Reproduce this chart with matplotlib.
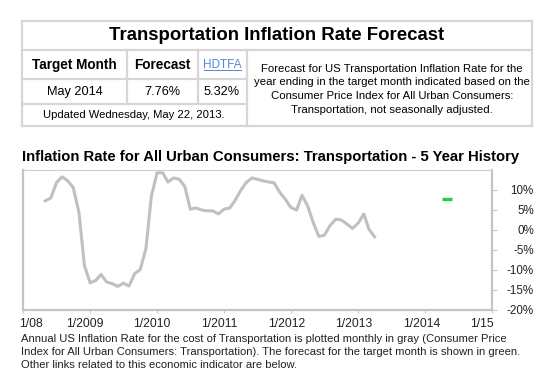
import matplotlib
matplotlib.use("Agg")
import matplotlib.pyplot as plt
import matplotlib.transforms as mtransforms
from matplotlib.lines import Line2D
import pandas as pd
import datetime as dt

plt.rcParams['font.family'] = ['Liberation Sans', 'DejaVu Sans']

# ---------------- data ----------------
start_month = "2008-05-01"
inflation = [7.3, 8.0, 11.8, 13.3, 12.3, 10.6, 4.4, -8.9, -13.2, -12.6,
             -11.1, -13.0, -13.4, -14.1, -13.3, -14.0, -10.9, -9.9, -4.7, 8.5,
             14.3, 14.3, 12.0, 13.0, 12.7, 10.9, 5.2, 5.5, 5.0, 4.8,
             4.8, 4.0, 5.2, 5.5, 7.3, 9.8, 11.8, 13.0, 12.7, 12.3,
             12.0, 11.8, 9.4, 7.7, 5.6, 5.0, 8.7, 6.0, 1.9, -1.6,
             -1.3, 1.1, 2.7, 2.5, 1.5, 0.4, 1.7, 4.0, 0.2, -1.7]
forecast_month = "2014-05-01"
forecast_value = 7.76
hdtfa_value = 5.32
x_tick_years = [2008, 2009, 2010, 2011, 2012, 2013, 2014, 2015]
x_tick_labels = ["1/08", "1/2009", "1/2010", "1/2011", "1/2012", "1/2013", "1/2014", "1/15"]
y_ticks = [10, 5, 0, -5, -10, -15, -20]
y_tick_labels = ["10%", "5%", "0%", "-5%", "-10%", "-15%", "-20%"]

W, H = 553, 382
fig = plt.figure(figsize=(W / 100, H / 100), dpi=100)
fig.patch.set_facecolor("white")


def fx(x):
    return x / W


def fy(y):
    return 1 - y / H


# ---------------- table ----------------
border = "#d6d6d6"
blw = 1.6
L, R, T, B = 22, 532, 21, 126
rows = [49.5, 78.5, 104.3]
c1, c2, c3 = 127.3, 197.5, 246.5


def hline(x0, x1, y):
    fig.add_artist(Line2D([fx(x0), fx(x1)], [fy(y), fy(y)], color=border, lw=blw))


def vline(x, y0, y1):
    fig.add_artist(Line2D([fx(x), fx(x)], [fy(y0), fy(y1)], color=border, lw=blw))


hline(L, R, T)
hline(L, R, B)
vline(L, T, B)
vline(R, T, B)
hline(L, R, rows[0])
hline(L, c3, rows[1])
hline(L, c3, rows[2])
vline(c1, rows[0], rows[2])
vline(c2, rows[0], rows[2])
vline(c3, rows[0], B)

fig.text(fx((L + R) / 2), fy(35), "Transportation Inflation Rate Forecast",
         ha="center", va="center", fontsize=13.4, fontweight="bold", color="black")
fig.text(fx((L + c1) / 2), fy(64.8), "Target Month", ha="center", va="center",
         fontsize=9.8, fontweight="bold")
fig.text(fx((c1 + c2) / 2), fy(64.8), "Forecast", ha="center", va="center",
         fontsize=9.8, fontweight="bold")
fig.text(fx((c2 + c3) / 2), fy(65.3), "HDTFA", ha="center", va="center",
         fontsize=8.5, color="#5585d5")
fig.add_artist(Line2D([fx(204), fx(241)], [fy(69.8), fy(69.8)], color="#5585d5", lw=0.7))
fig.text(fx((L + c1) / 2), fy(92.2), "May 2014", ha="center", va="center", fontsize=9.2)
fig.text(fx((c1 + c2) / 2), fy(92.2), f"{forecast_value:.2f}%", ha="center", va="center", fontsize=9.2)
fig.text(fx((c2 + c3) / 2), fy(92.2), f"{hdtfa_value:.2f}%", ha="center", va="center", fontsize=9.2)
fig.text(fx((L + c3) / 2), fy(115.5), "Updated Wednesday, May 22, 2013.", ha="center",
         va="center", fontsize=8.1)
desc = ["Forecast for US Transportation Inflation Rate for the",
        "year ending in the target month indicated based on the",
        "Consumer Price Index for All Urban Consumers:",
        "Transportation, not seasonally adjusted."]
for i, line in enumerate(desc):
    fig.text(fx((c3 + R) / 2 + 3), fy(68.5 + i * 13.8), line, ha="center", va="center",
             fontsize=8.2)

# ---------------- chart ----------------
fig.text(fx(22), fy(156.7), "Inflation Rate for All Urban Consumers: Transportation - 5 Year History",
         ha="left", va="center", fontsize=10.75, fontweight="bold")

ax_l, ax_r, ax_t, ax_b = 23, 492, 170, 310
ax = fig.add_axes([fx(ax_l), fy(ax_b), (ax_r - ax_l) / W, (ax_b - ax_t) / H])

dates = pd.date_range(start_month, periods=len(inflation), freq="MS")
ax.plot(dates, inflation, color="#c0c0c0", lw=2.2, solid_joinstyle="round")
ax.plot([pd.Timestamp(forecast_month)], [forecast_value], marker="_", ms=6.5, mew=2.4,
        color="#22d040", linestyle="none")

ax.set_xlim(dt.datetime(x_tick_years[0], 1, 1), dt.datetime(x_tick_years[-1], 1, 1))
ax.set_ylim(-20, 15)
ax.set_xticks([dt.datetime(y, 1, 1) for y in x_tick_years])
ax.set_xticklabels(x_tick_labels)
ax.set_yticks(y_ticks)
ax.set_yticklabels(y_tick_labels)
ax.yaxis.tick_right()
ax.tick_params(axis="y", direction="out", length=3.6, width=0.8, color="#c8c8c8",
               pad=26.5, labelsize=8.4, labelcolor="#222222")
for lab in ax.get_yticklabels():
    lab.set_ha("right")
ax.tick_params(axis="x", direction="out", length=2, width=0.8, color="#c8c8c8",
               pad=3.5, labelsize=8.7, labelcolor="#222222")
label_shifts_px = [8, -5.5, -5, -5, -4, -4.5, -3, -10]
for lab, sh in zip(ax.get_xticklabels(), label_shifts_px):
    off = mtransforms.ScaledTranslation(sh / 100, 0, fig.dpi_scale_trans)
    lab.set_transform(lab.get_transform() + off)

for side in ["left", "bottom", "right"]:
    ax.spines[side].set_color("#c4c4c4")
    ax.spines[side].set_linewidth(1.6)
ax.spines["top"].set_color("#d0d0d0")
ax.spines["top"].set_linewidth(0.9)

# ---------------- caption ----------------
caption = ["Annual US Inflation Rate for the cost of Transportation is plotted monthly in gray (Consumer Price",
           "Index for All Urban Consumers: Transportation). The forecast for the target month is shown in green.",
           "Other links related to this economic indicator are below."]
for i, line in enumerate(caption):
    fig.text(fx(21), fy(338.5 + i * 13.3), line, ha="left", va="center", fontsize=8.1,
             color="#222222")

fig.savefig("out.png", dpi=100, facecolor="white")
